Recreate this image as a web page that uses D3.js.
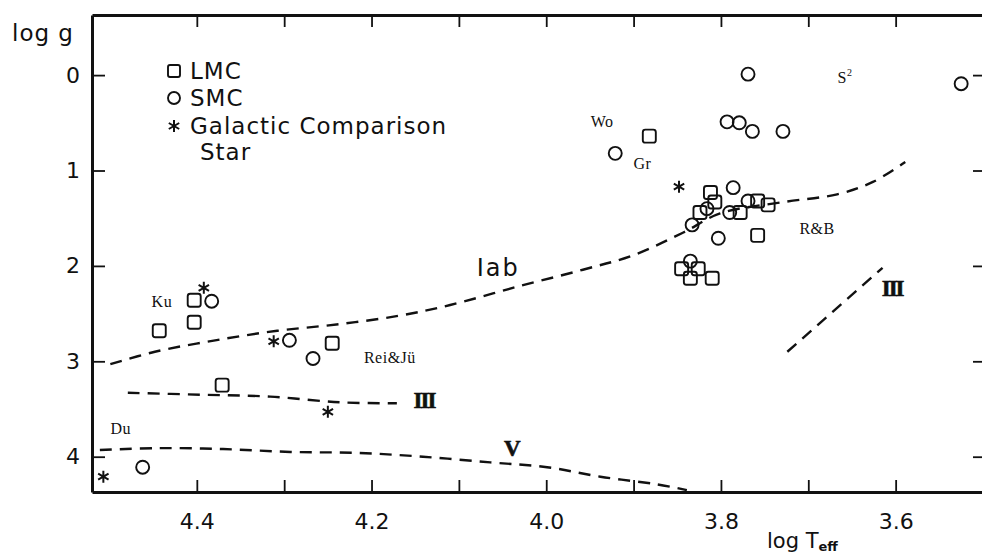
<!DOCTYPE html>
<html>
<head>
<meta charset="utf-8">
<script src="https://cdn.jsdelivr.net/npm/d3@7"></script>
<style>
  body { margin: 0; background: #fff; }
  svg { display: block; }
</style>
</head>
<body>
<svg id="chart" width="982" height="556"></svg>
<script>
// Stellar parameters: log Teff and log g for each sample
const lmcLogTeff = [4.443, 4.403, 4.403, 4.371, 4.245, 3.882, 3.812, 3.807, 3.824, 3.778, 3.758, 3.746, 3.758, 3.845, 3.826, 3.835, 3.810];
const lmcLogG    = [2.68, 2.59, 2.36, 3.25, 2.81, 0.64, 1.23, 1.33, 1.44, 1.44, 1.32, 1.36, 1.68, 2.03, 2.03, 2.13, 2.13];

const smcLogTeff = [4.383, 4.294, 4.267, 4.462, 3.921, 3.769, 3.793, 3.779, 3.764, 3.729, 3.525, 3.786, 3.816, 3.833, 3.790, 3.769, 3.803, 3.835];
const smcLogG    = [2.37, 2.78, 2.97, 4.11, 0.82, -0.01, 0.49, 0.50, 0.59, 0.59, 0.09, 1.18, 1.40, 1.57, 1.44, 1.32, 1.71, 1.95];

const galLogTeff = [4.392, 4.312, 4.250, 4.507, 3.848];
const galLogG    = [2.23, 2.79, 3.53, 4.21, 1.17];

// Luminosity-class sequences (dashed)
const iabLogTeff = [4.499, 4.448, 4.379, 4.308, 4.236, 4.167, 4.110, 4.034, 3.958, 3.901, 3.843, 3.801, 3.728, 3.667, 3.626, 3.589];
const iabLogG    = [3.03, 2.90, 2.78, 2.68, 2.61, 2.52, 2.41, 2.22, 2.04, 1.89, 1.65, 1.45, 1.33, 1.25, 1.12, 0.91];

const giantHotLogTeff = [4.479, 4.396, 4.316, 4.236, 4.171];
const giantHotLogG    = [3.33, 3.35, 3.37, 3.43, 3.44];

const giantCoolLogTeff = [3.724, 3.615];
const giantCoolLogG    = [2.90, 2.02];

const dwarfLogTeff = [4.511, 4.446, 4.370, 4.293, 4.217, 4.141, 4.064, 3.999, 3.938, 3.873, 3.839];
const dwarfLogG    = [3.93, 3.91, 3.92, 3.95, 3.96, 4.00, 4.06, 4.11, 4.21, 4.29, 4.35];

// Axis ticks
const xTickValues = [4.4, 4.3, 4.2, 4.1, 4.0, 3.9, 3.8, 3.7, 3.6];
const xTickLabels = [4.4, 4.2, 4.0, 3.8, 3.6];
const yTickValues = [0, 1, 2, 3, 4];

// Source annotations
const sourceNames  = ["Ku", "Wo", "Gr", "R&B", "Rei&Jü", "Du"];
const sourceTeff   = [4.44, 3.936, 3.890, 3.690, 4.179, 4.487];
const sourceLogG   = [2.37, 0.49, 0.93, 1.61, 2.965, 3.70];

const ink = "#111";
const svg = d3.select("#chart");

const x = d3.scaleLinear().domain([4.52, 3.50]).range([92, 983]);
const y = d3.scaleLinear().domain([-0.63, 4.37]).range([15, 492]);

const sansFont = "'DejaVu Sans', sans-serif";
const serifFont = "'Liberation Serif', 'DejaVu Serif', serif";

// ---- Axes ----
const fmt = d3.format(".1f");
const gBottom = svg.append("g")
  .attr("transform", `translate(0,${y.range()[1]})`)
  .call(d3.axisBottom(x).tickValues(xTickValues).tickSizeInner(-12).tickSizeOuter(0).tickPadding(21)
    .tickFormat(d => xTickLabels.some(v => Math.abs(v - d) < 1e-9) ? fmt(d) : ""));

const gTop = svg.append("g")
  .attr("transform", `translate(0,${y.range()[0]})`)
  .call(d3.axisTop(x).tickValues(xTickValues).tickSizeInner(-12).tickSizeOuter(0).tickFormat(""));

const gLeft = svg.append("g")
  .attr("transform", `translate(${x.range()[0]},0)`)
  .call(d3.axisLeft(y).tickValues(yTickValues).tickSizeInner(-13).tickSizeOuter(0).tickPadding(12)
    .tickFormat(d3.format("d")));

const gRight = svg.append("g")
  .attr("transform", `translate(${x.range()[1]},0)`)
  .call(d3.axisRight(y).tickValues(yTickValues).tickSizeInner(-10).tickSizeOuter(0).tickFormat(""));

[gBottom, gTop, gLeft, gRight].forEach(g => {
  g.select(".domain").attr("stroke", ink).attr("stroke-width", 3);
  g.selectAll(".tick line").attr("stroke", ink).attr("stroke-width", 1.8);
  g.selectAll(".tick text")
    .attr("fill", ink)
    .style("font-family", sansFont)
    .style("font-size", "22px");
});

// Axis titles
svg.append("text")
  .attr("x", 12).attr("y", 41)
  .attr("fill", ink)
  .style("font-family", sansFont).style("font-size", "23px").style("letter-spacing", "1px")
  .text("log g");

const xTitle = svg.append("text")
  .attr("x", 767).attr("y", 548)
  .attr("fill", ink)
  .style("font-family", sansFont).style("font-size", "21px");
xTitle.append("tspan").text("log  T");
xTitle.append("tspan").attr("dy", 3).style("font-size", "13px").style("font-weight", "bold").text("eff");

// ---- Sequences ----
const line = d3.line().x(d => x(d[0])).y(d => y(d[1])).curve(d3.curveCatmullRom.alpha(0.5));
const seqs = [
  d3.zip(iabLogTeff, iabLogG),
  d3.zip(giantHotLogTeff, giantHotLogG),
  d3.zip(giantCoolLogTeff, giantCoolLogG),
  d3.zip(dwarfLogTeff, dwarfLogG)
];
svg.append("g").selectAll("path").data(seqs).join("path")
  .attr("d", line)
  .attr("fill", "none")
  .attr("stroke", ink)
  .attr("stroke-width", 2.4)
  .attr("stroke-dasharray", "12,8");

// Sequence labels
const seqLabels = svg.append("g").attr("fill", ink);
seqLabels.append("text")
  .attr("x", x(4.055)).attr("y", y(2.02))
  .attr("text-anchor", "middle").attr("dominant-baseline", "central")
  .style("font-family", sansFont).style("font-size", "24px").style("letter-spacing", "2px")
  .text("Iab");
// Roman numerals: tight letter spacing so the serifs join into bars
[[4.14, 3.406, "III"], [3.604, 2.232, "III"], [4.04, 3.909, "V"]].forEach(([t, g, s]) => {
  seqLabels.append("text")
    .attr("x", x(t)).attr("y", y(g))
    .attr("text-anchor", "middle").attr("dominant-baseline", "central")
    .attr("stroke", ink).attr("stroke-width", 0.6)
    .style("font-family", "'Liberation Serif', serif").style("font-size", "23px").style("font-weight", "bold")
    .style("letter-spacing", "-2px")
    .text(s);
});

// Source annotations
const ann = svg.append("g").attr("fill", ink)
  .style("font-family", serifFont).style("font-size", "16px").style("letter-spacing", "0.5px");
sourceNames.forEach((s, i) => {
  ann.append("text")
    .attr("x", x(sourceTeff[i])).attr("y", y(sourceLogG[i]))
    .attr("text-anchor", "middle").attr("dominant-baseline", "central")
    .text(s);
});
const s2 = ann.append("text")
  .attr("x", x(3.658)).attr("y", y(0.02))
  .attr("text-anchor", "middle").attr("dominant-baseline", "central");
s2.append("tspan").text("S");
s2.append("tspan").attr("dy", -5).style("font-size", "10px").text("2");

// ---- Markers ----
const sq = 13;
function starPath(r) {
  const p = d3.path();
  [90, 30, 150].forEach(a => {
    const rad = a * Math.PI / 180;
    p.moveTo(-r * Math.cos(rad), -r * Math.sin(rad));
    p.lineTo(r * Math.cos(rad), r * Math.sin(rad));
  });
  return p.toString();
}

const marks = svg.append("g").attr("fill", "none").attr("stroke", ink);

marks.selectAll("rect.lmc").data(d3.zip(lmcLogTeff, lmcLogG)).join("rect")
  .attr("class", "lmc")
  .attr("x", d => x(d[0]) - sq / 2).attr("y", d => y(d[1]) - sq / 2)
  .attr("width", sq).attr("height", sq).attr("rx", 2.5)
  .attr("stroke-width", 1.9);

marks.selectAll("circle.smc").data(d3.zip(smcLogTeff, smcLogG)).join("circle")
  .attr("class", "smc")
  .attr("cx", d => x(d[0])).attr("cy", d => y(d[1])).attr("r", 6.5)
  .attr("stroke-width", 1.9);

marks.selectAll("path.gal").data(d3.zip(galLogTeff, galLogG)).join("path")
  .attr("class", "gal")
  .attr("transform", d => `translate(${x(d[0])},${y(d[1])})`)
  .attr("d", starPath(6))
  .attr("stroke-width", 2);

// ---- Legend ----
const legend = svg.append("g").attr("transform", "translate(174,0)");
legend.append("rect").attr("x", -6).attr("y", 71 - 6).attr("width", 12).attr("height", 12).attr("rx", 2)
  .attr("fill", "none").attr("stroke", ink).attr("stroke-width", 1.9);
legend.append("circle").attr("cx", 0).attr("cy", 98).attr("r", 6)
  .attr("fill", "none").attr("stroke", ink).attr("stroke-width", 1.9);
legend.append("path").attr("transform", "translate(0,126)").attr("d", starPath(6))
  .attr("fill", "none").attr("stroke", ink).attr("stroke-width", 2);
const legText = legend.append("g").attr("fill", ink)
  .style("font-family", sansFont).style("font-size", "23px").style("letter-spacing", "1px");
[["LMC", 16, 71], ["SMC", 16, 98], ["Galactic Comparison", 16, 126], ["Star", 26, 152]].forEach(([t, dx, yy]) => {
  legText.append("text").attr("x", dx).attr("y", yy).attr("dominant-baseline", "central").text(t);
});
</script>
</body>
</html>
